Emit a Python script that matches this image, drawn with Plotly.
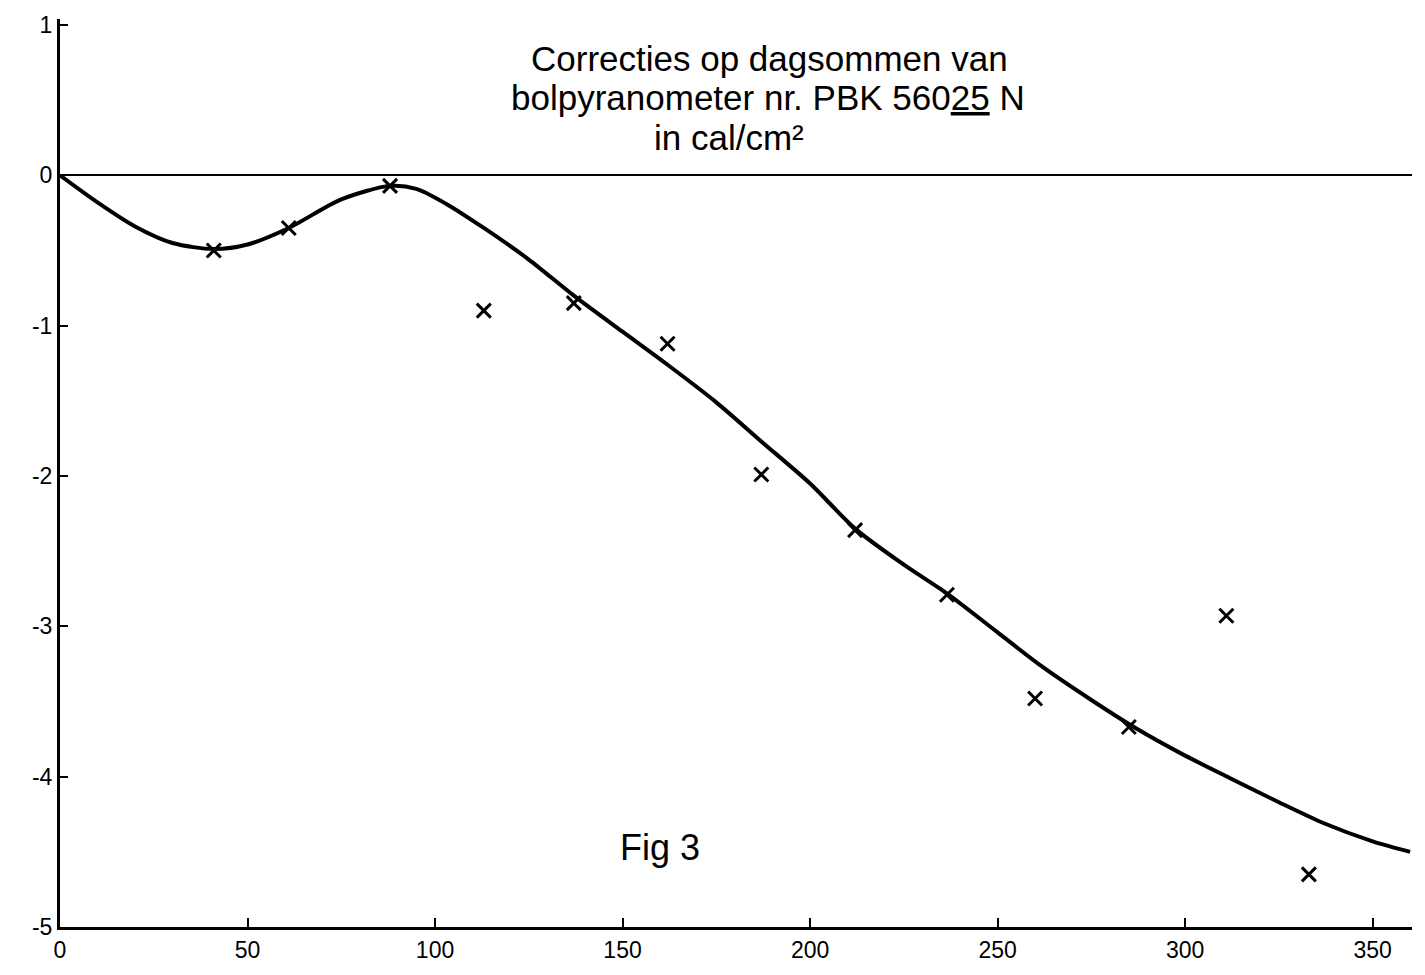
import plotly.graph_objects as go

# measured points (crosses)
pts_x = [41, 61, 88, 113, 137, 162, 187, 212, 236.5, 260, 285, 311, 333]
pts_y = [-0.50, -0.35, -0.07, -0.90, -0.85, -1.12, -1.99, -2.36, -2.79, -3.48, -3.67, -2.93, -4.65]

# hand-drawn smooth curve
curve_x = [0, 10, 20, 30, 41, 50, 61, 75, 88, 95, 103, 113, 125, 137, 150, 162, 175, 187,
           200, 212, 225, 237, 250, 262, 275, 287, 300, 312, 325, 337, 350, 360]
curve_y = [0, -0.18, -0.34, -0.45, -0.49, -0.46, -0.35, -0.16, -0.07, -0.09, -0.19, -0.35,
           -0.56, -0.80, -1.04, -1.26, -1.51, -1.77, -2.05, -2.35, -2.59, -2.79, -3.04, -3.27,
           -3.49, -3.68, -3.86, -4.01, -4.17, -4.31, -4.43, -4.50]

x_ticks = [0, 50, 100, 150, 200, 250, 300, 350]
y_ticks = [-5, -4, -3, -2, -1, 0, 1]
y_tick_text = ["-5", "-4", "-3", "-2", "-1", "0", "1"]

title_lines = ["Correcties op dagsommen van",
               "bolpyranometer nr. PBK 560<u>25</u> N",
               "in cal/cm²"]
fig_label = "Fig 3"

FONT = "Liberation Sans"

fig = go.Figure()
fig.add_trace(go.Scatter(x=curve_x, y=curve_y, mode="lines",
                         line=dict(color="black", width=4, shape="spline", smoothing=0.8),
                         hoverinfo="skip", showlegend=False))
fig.add_trace(go.Scatter(x=pts_x, y=pts_y, mode="markers",
                         marker=dict(symbol="x-thin", size=14, line=dict(color="black", width=3)),
                         showlegend=False))

title_pos = [(0.525, 55), (0.524, 94), (0.495, 134)]
for line, (px, py) in zip(title_lines, title_pos):
    fig.add_annotation(x=px, y=1 - (py - 15) / 913, xref="paper", yref="paper", text=line,
                       showarrow=False, xanchor="center", yanchor="middle",
                       font=dict(family=FONT, size=35, color="black"))
fig.add_annotation(x=160, y=-4.47, text=fig_label, showarrow=False,
                   font=dict(family=FONT, size=36, color="black"))

fig.update_layout(
    width=1425, height=975,
    paper_bgcolor="white", plot_bgcolor="white",
    margin=dict(l=60, r=13, t=15, b=47),
    font=dict(family=FONT, size=23, color="black"),
)
fig.update_xaxes(range=[0, 360.5], tickvals=x_ticks, ticks="inside", ticklen=9, tickwidth=2,
                 tickcolor="black", showline=True, linecolor="black", linewidth=3,
                 showgrid=False, zeroline=False, tickfont=dict(size=23))
fig.update_yaxes(range=[-5, 1.04], tickvals=y_ticks, ticktext=y_tick_text, ticks="inside",
                 ticklen=8, tickwidth=2, tickcolor="black", showline=True, linecolor="black",
                 linewidth=3, showgrid=False, zeroline=True, zerolinecolor="black",
                 zerolinewidth=2, tickfont=dict(size=23))

fig.write_html("out.html")
